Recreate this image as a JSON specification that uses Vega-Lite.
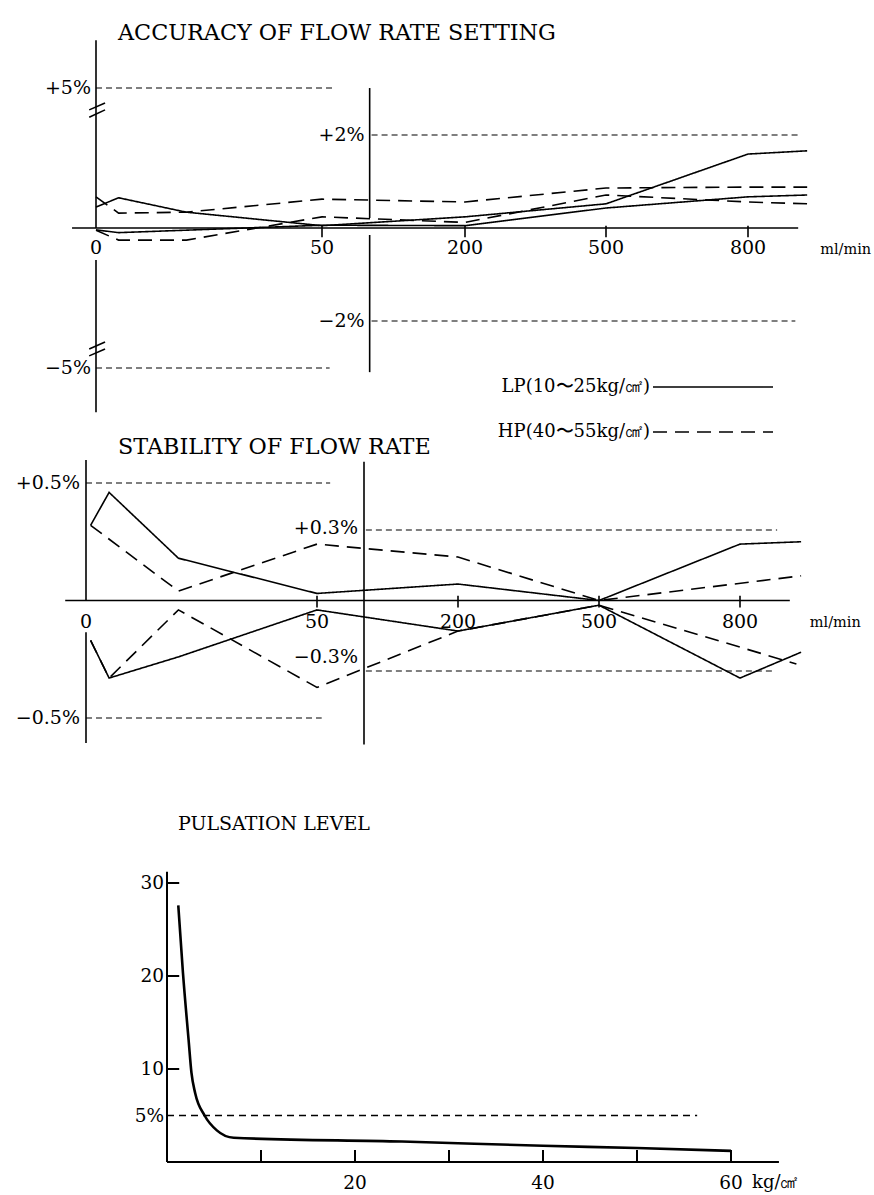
{
  "$schema": "https://vega.github.io/schema/vega-lite/v6.json",
  "width": 874,
  "height": 1195,
  "autosize": "none",
  "padding": 0,
  "background": "white",
  "config": {
    "view": {"stroke": null},
    "axis": {"disable": true},
    "text": {"font": "DejaVu Serif", "fontSize": 18, "baseline": "middle", "color": "black"},
    "line": {"color": "black"},
    "rule": {"color": "black"}
  },
  "datasets": {
    "accuracy": [
      {"type": "LP(10〜25kg/㎠)", "bound": "upper", "flow": 0, "value": 0.45},
      {"type": "LP(10〜25kg/㎠)", "bound": "upper", "flow": 5, "value": 0.65},
      {"type": "LP(10〜25kg/㎠)", "bound": "upper", "flow": 20, "value": 0.34},
      {"type": "LP(10〜25kg/㎠)", "bound": "upper", "flow": 50, "value": 0.05},
      {"type": "LP(10〜25kg/㎠)", "bound": "upper", "flow": 200, "value": 0.24},
      {"type": "LP(10〜25kg/㎠)", "bound": "upper", "flow": 500, "value": 0.52},
      {"type": "LP(10〜25kg/㎠)", "bound": "upper", "flow": 800, "value": 1.59},
      {"type": "LP(10〜25kg/㎠)", "bound": "upper", "flow": 925, "value": 1.66},
      {"type": "LP(10〜25kg/㎠)", "bound": "lower", "flow": 0, "value": -0.04},
      {"type": "LP(10〜25kg/㎠)", "bound": "lower", "flow": 5, "value": -0.1},
      {"type": "LP(10〜25kg/㎠)", "bound": "lower", "flow": 50, "value": 0.06},
      {"type": "LP(10〜25kg/㎠)", "bound": "lower", "flow": 200, "value": 0.05},
      {"type": "LP(10〜25kg/㎠)", "bound": "lower", "flow": 500, "value": 0.43},
      {"type": "LP(10〜25kg/㎠)", "bound": "lower", "flow": 800, "value": 0.67},
      {"type": "LP(10〜25kg/㎠)", "bound": "lower", "flow": 925, "value": 0.71},
      {"type": "HP(40〜55kg/㎠)", "bound": "upper", "flow": 0, "value": 0.67},
      {"type": "HP(40〜55kg/㎠)", "bound": "upper", "flow": 5, "value": 0.32},
      {"type": "HP(40〜55kg/㎠)", "bound": "upper", "flow": 20, "value": 0.34},
      {"type": "HP(40〜55kg/㎠)", "bound": "upper", "flow": 50, "value": 0.62},
      {"type": "HP(40〜55kg/㎠)", "bound": "upper", "flow": 200, "value": 0.56},
      {"type": "HP(40〜55kg/㎠)", "bound": "upper", "flow": 500, "value": 0.86},
      {"type": "HP(40〜55kg/㎠)", "bound": "upper", "flow": 800, "value": 0.88},
      {"type": "HP(40〜55kg/㎠)", "bound": "upper", "flow": 925, "value": 0.88},
      {"type": "HP(40〜55kg/㎠)", "bound": "lower", "flow": 0, "value": -0.05},
      {"type": "HP(40〜55kg/㎠)", "bound": "lower", "flow": 5, "value": -0.26},
      {"type": "HP(40〜55kg/㎠)", "bound": "lower", "flow": 20, "value": -0.26},
      {"type": "HP(40〜55kg/㎠)", "bound": "lower", "flow": 50, "value": 0.24},
      {"type": "HP(40〜55kg/㎠)", "bound": "lower", "flow": 200, "value": 0.12},
      {"type": "HP(40〜55kg/㎠)", "bound": "lower", "flow": 500, "value": 0.71},
      {"type": "HP(40〜55kg/㎠)", "bound": "lower", "flow": 800, "value": 0.56},
      {"type": "HP(40〜55kg/㎠)", "bound": "lower", "flow": 925, "value": 0.52}
    ],
    "stability": [
      {"type": "LP(10〜25kg/㎠)", "bound": "upper", "flow": 1, "value": 0.32},
      {"type": "LP(10〜25kg/㎠)", "bound": "upper", "flow": 5, "value": 0.46},
      {"type": "LP(10〜25kg/㎠)", "bound": "upper", "flow": 20, "value": 0.18},
      {"type": "LP(10〜25kg/㎠)", "bound": "upper", "flow": 50, "value": 0.03},
      {"type": "LP(10〜25kg/㎠)", "bound": "upper", "flow": 200, "value": 0.07},
      {"type": "LP(10〜25kg/㎠)", "bound": "upper", "flow": 500, "value": 0.0},
      {"type": "LP(10〜25kg/㎠)", "bound": "upper", "flow": 800, "value": 0.24},
      {"type": "LP(10〜25kg/㎠)", "bound": "upper", "flow": 930, "value": 0.25},
      {"type": "LP(10〜25kg/㎠)", "bound": "lower", "flow": 1, "value": -0.17},
      {"type": "LP(10〜25kg/㎠)", "bound": "lower", "flow": 5, "value": -0.33},
      {"type": "LP(10〜25kg/㎠)", "bound": "lower", "flow": 20, "value": -0.24},
      {"type": "LP(10〜25kg/㎠)", "bound": "lower", "flow": 50, "value": -0.04},
      {"type": "LP(10〜25kg/㎠)", "bound": "lower", "flow": 200, "value": -0.13},
      {"type": "LP(10〜25kg/㎠)", "bound": "lower", "flow": 500, "value": -0.02},
      {"type": "LP(10〜25kg/㎠)", "bound": "lower", "flow": 800, "value": -0.33},
      {"type": "LP(10〜25kg/㎠)", "bound": "lower", "flow": 930, "value": -0.22},
      {"type": "HP(40〜55kg/㎠)", "bound": "upper", "flow": 1, "value": 0.32},
      {"type": "HP(40〜55kg/㎠)", "bound": "upper", "flow": 20, "value": 0.04},
      {"type": "HP(40〜55kg/㎠)", "bound": "upper", "flow": 50, "value": 0.24},
      {"type": "HP(40〜55kg/㎠)", "bound": "upper", "flow": 200, "value": 0.185},
      {"type": "HP(40〜55kg/㎠)", "bound": "upper", "flow": 500, "value": 0.0},
      {"type": "HP(40〜55kg/㎠)", "bound": "upper", "flow": 930, "value": 0.105},
      {"type": "HP(40〜55kg/㎠)", "bound": "lower", "flow": 1, "value": -0.17},
      {"type": "HP(40〜55kg/㎠)", "bound": "lower", "flow": 5, "value": -0.33},
      {"type": "HP(40〜55kg/㎠)", "bound": "lower", "flow": 20, "value": -0.04},
      {"type": "HP(40〜55kg/㎠)", "bound": "lower", "flow": 50, "value": -0.37},
      {"type": "HP(40〜55kg/㎠)", "bound": "lower", "flow": 200, "value": -0.13},
      {"type": "HP(40〜55kg/㎠)", "bound": "lower", "flow": 500, "value": -0.02},
      {"type": "HP(40〜55kg/㎠)", "bound": "lower", "flow": 920, "value": -0.27}
    ],
    "pulsation": [
      {"pressure": 1.2, "level": 27.6},
      {"pressure": 1.7, "level": 20.3},
      {"pressure": 2.3, "level": 13.1},
      {"pressure": 2.6, "level": 9.6},
      {"pressure": 3.0, "level": 7.4},
      {"pressure": 4.0, "level": 5.0},
      {"pressure": 5.3, "level": 3.4},
      {"pressure": 7.1, "level": 2.6},
      {"pressure": 25, "level": 2.2},
      {"pressure": 40, "level": 1.75},
      {"pressure": 50, "level": 1.5},
      {"pressure": 60, "level": 1.2}
    ]
  },
  "resolve": {"scale": {"x": "independent", "y": "independent"}},
  "layer": [
    {
      "encoding": {
        "x": {"field": "flow", "type": "quantitative", "scale": {"type": "linear", "domain": [0, 50, 200, 500, 800], "range": [96, 322, 465, 606, 748], "nice": false, "zero": false}},
        "y": {"field": "value", "type": "quantitative", "scale": {"type": "linear", "domain": [-2, 2], "range": [321, 135], "nice": false, "zero": false}}
      },
      "layer": [
        {
          "data": {"values": [
            {"flow": -5.3, "flow2": 906, "value": 0, "value2": 0},
            {"flow": 0, "flow2": 0, "value": 4.04, "value2": 0},
            {"flow": 0, "flow2": 0, "value": -0.69, "value2": -3.96},
            {"flow": 100, "flow2": 100, "value": 3.01, "value2": 0.215},
            {"flow": 100, "flow2": 100, "value": -0.15, "value2": -3.1},
            {"flow": 50, "flow2": 50, "value": 0.05, "value2": -0.2},
            {"flow": 200, "flow2": 200, "value": 0.05, "value2": -0.2},
            {"flow": 500, "flow2": 500, "value": 0.05, "value2": -0.2},
            {"flow": 800, "flow2": 800, "value": 0.05, "value2": -0.2},
            {"flow": -1.5, "flow2": 2, "value": 2.54, "value2": 2.69},
            {"flow": -1.5, "flow2": 2, "value": 2.38, "value2": 2.54},
            {"flow": -1.5, "flow2": 2, "value": -2.75, "value2": -2.6},
            {"flow": -1.5, "flow2": 2, "value": -2.6, "value2": -2.45}
          ]},
          "mark": {"type": "rule", "strokeWidth": 1.6},
          "encoding": {"x2": {"field": "flow2"}, "y2": {"field": "value2"}}
        },
        {
          "data": {"values": [
            {"flow": 0, "flow2": 64, "value": 3.01},
            {"flow": 0, "flow2": 58, "value": -3.01},
            {"flow": 102, "flow2": 905, "value": 2},
            {"flow": 102, "flow2": 900, "value": -2}
          ]},
          "mark": {"type": "rule", "strokeWidth": 1.1, "strokeDash": [6, 4]},
          "encoding": {"x2": {"field": "flow2"}}
        },
        {
          "data": {"name": "accuracy"},
          "mark": {"type": "line", "strokeWidth": 1.6},
          "encoding": {
            "strokeDash": {
              "field": "type", "type": "nominal",
              "scale": {"domain": ["LP(10〜25kg/㎠)", "HP(40〜55kg/㎠)"], "range": [[1, 0], [14, 8]]},
              "legend": {"orient": "none", "legendX": 697, "legendY": 371, "title": null, "padding": 0,
                "symbolType": "M-4,0H4", "symbolSize": 900, "symbolStrokeWidth": 1.6, "symbolStrokeColor": "black",
                "labelAlign": "right", "labelOffset": -79, "labelFont": "DejaVu Serif", "labelFontSize": 18,
                "labelColor": "black", "labelLimit": 400, "rowPadding": 20}
            },
            "detail": {"field": "bound"}
          }
        },
        {
          "data": {"values": [
            {"flow": 0, "value": 3.01, "label": "+5%"},
            {"flow": 0, "value": -3.01, "label": "−5%"},
            {"flow": 100, "value": 2, "label": "+2%"},
            {"flow": 100, "value": -2, "label": "−2%"}
          ]},
          "mark": {"type": "text", "align": "right", "dx": -5, "fontSize": 19},
          "encoding": {"text": {"field": "label"}}
        },
        {
          "data": {"values": [
            {"flow": 0, "value": 0, "label": "0"},
            {"flow": 50, "value": 0, "label": "50"},
            {"flow": 200, "value": 0, "label": "200"},
            {"flow": 500, "value": 0, "label": "500"},
            {"flow": 800, "value": 0, "label": "800"}
          ]},
          "mark": {"type": "text", "align": "center", "dy": 20, "fontSize": 19},
          "encoding": {"text": {"field": "label"}}
        },
        {
          "data": {"values": [{"flow": 906, "value": 0, "label": "ml/min"}]},
          "mark": {"type": "text", "align": "left", "dx": 22, "dy": 22, "fontSize": 14.5},
          "encoding": {"text": {"field": "label"}}
        },
        {
          "data": {"values": [{"flow": 0, "value": 4.2, "label": "ACCURACY OF FLOW RATE SETTING"}]},
          "mark": {"type": "text", "align": "left", "dx": 22, "fontSize": 22.3},
          "encoding": {"text": {"field": "label"}}
        }
      ]
    },
    {
      "encoding": {
        "x": {"field": "flow", "type": "quantitative", "scale": {"type": "linear", "domain": [0, 50, 200, 500, 800], "range": [86, 317, 458, 599, 740], "nice": false, "zero": false}},
        "y": {"field": "value", "type": "quantitative", "scale": {"type": "linear", "domain": [-0.5, 0.5], "range": [718, 483], "nice": false, "zero": false}}
      },
      "layer": [
        {
          "data": {"values": [
            {"flow": -4.5, "flow2": 906, "value": 0, "value2": 0},
            {"flow": 0, "flow2": 0, "value": 0.598, "value2": 0},
            {"flow": 0, "flow2": 0, "value": -0.135, "value2": -0.606},
            {"flow": 100, "flow2": 100, "value": 0.59, "value2": -0.613},
            {"flow": 50, "flow2": 50, "value": 0.02, "value2": -0.03},
            {"flow": 200, "flow2": 200, "value": 0.02, "value2": -0.03},
            {"flow": 500, "flow2": 500, "value": 0.02, "value2": -0.03},
            {"flow": 800, "flow2": 800, "value": 0.02, "value2": -0.03}
          ]},
          "mark": {"type": "rule", "strokeWidth": 1.6},
          "encoding": {"x2": {"field": "flow2"}, "y2": {"field": "value2"}}
        },
        {
          "data": {"values": [
            {"flow": 0, "flow2": 64, "value": 0.5},
            {"flow": 0, "flow2": 55, "value": -0.5},
            {"flow": 102, "flow2": 879, "value": 0.3},
            {"flow": 102, "flow2": 873, "value": -0.3}
          ]},
          "mark": {"type": "rule", "strokeWidth": 1.1, "strokeDash": [6, 4]},
          "encoding": {"x2": {"field": "flow2"}}
        },
        {
          "data": {"name": "stability"},
          "mark": {"type": "line", "strokeWidth": 1.6},
          "encoding": {
            "strokeDash": {
              "field": "type", "type": "nominal",
              "scale": {"domain": ["LP(10〜25kg/㎠)", "HP(40〜55kg/㎠)"], "range": [[1, 0], [14, 8]]},
              "legend": {"orient": "none", "legendX": 697, "legendY": 371, "title": null, "padding": 0,
                "symbolType": "M-4,0H4", "symbolSize": 900, "symbolStrokeWidth": 1.6, "symbolStrokeColor": "black",
                "labelAlign": "right", "labelOffset": -79, "labelFont": "DejaVu Serif", "labelFontSize": 18,
                "labelColor": "black", "labelLimit": 400, "rowPadding": 20}
            },
            "detail": {"field": "bound"}
          }
        },
        {
          "data": {"values": [
            {"flow": 0, "value": 0.5, "label": "+0.5%"},
            {"flow": 0, "value": -0.5, "label": "−0.5%"},
            {"flow": 100, "value": 0.31, "label": "+0.3%"},
            {"flow": 100, "value": -0.24, "label": "−0.3%"}
          ]},
          "mark": {"type": "text", "align": "right", "dx": -6, "fontSize": 19},
          "encoding": {"text": {"field": "label"}}
        },
        {
          "data": {"values": [
            {"flow": 0, "value": 0, "label": "0"},
            {"flow": 50, "value": 0, "label": "50"},
            {"flow": 200, "value": 0, "label": "200"},
            {"flow": 500, "value": 0, "label": "500"},
            {"flow": 800, "value": 0, "label": "800"}
          ]},
          "mark": {"type": "text", "align": "center", "dy": 21, "fontSize": 19},
          "encoding": {"text": {"field": "label"}}
        },
        {
          "data": {"values": [{"flow": 906, "value": 0, "label": "ml/min"}]},
          "mark": {"type": "text", "align": "left", "dx": 20, "dy": 22, "fontSize": 14.5},
          "encoding": {"text": {"field": "label"}}
        },
        {
          "data": {"values": [{"flow": 0, "value": 0.653, "label": "STABILITY OF FLOW RATE"}]},
          "mark": {"type": "text", "align": "left", "dx": 32, "fontSize": 22.3},
          "encoding": {"text": {"field": "label"}}
        }
      ]
    },
    {
      "encoding": {
        "x": {"field": "pressure", "type": "quantitative", "scale": {"type": "linear", "domain": [0, 60], "range": [167, 731], "nice": false, "zero": false}},
        "y": {"field": "level", "type": "quantitative", "scale": {"type": "linear", "domain": [0, 30], "range": [1162, 883], "nice": false, "zero": false}}
      },
      "layer": [
        {
          "data": {"values": [
            {"pressure": 0, "pressure2": 0, "level": 0, "level2": 31.2},
            {"pressure": 0, "pressure2": 65.1, "level": 0, "level2": 0},
            {"pressure": 0, "pressure2": 1.3, "level": 10, "level2": 10},
            {"pressure": 0, "pressure2": 1.3, "level": 20, "level2": 20},
            {"pressure": 0, "pressure2": 1.3, "level": 30, "level2": 30},
            {"pressure": 10, "pressure2": 10, "level": 0, "level2": 1.3},
            {"pressure": 20, "pressure2": 20, "level": 0, "level2": 1.3},
            {"pressure": 30, "pressure2": 30, "level": 0, "level2": 1.3},
            {"pressure": 40, "pressure2": 40, "level": 0, "level2": 1.3},
            {"pressure": 50, "pressure2": 50, "level": 0, "level2": 1.3},
            {"pressure": 60, "pressure2": 60, "level": 0, "level2": 1.3}
          ]},
          "mark": {"type": "rule", "strokeWidth": 2},
          "encoding": {"x2": {"field": "pressure2"}, "y2": {"field": "level2"}}
        },
        {
          "data": {"values": [{"pressure": 0, "pressure2": 56.4, "level": 5}]},
          "mark": {"type": "rule", "strokeWidth": 1.3, "strokeDash": [7, 5]},
          "encoding": {"x2": {"field": "pressure2"}}
        },
        {
          "data": {"name": "pulsation"},
          "mark": {"type": "line", "strokeWidth": 2.6, "interpolate": "monotone"}
        },
        {
          "data": {"values": [
            {"pressure": 0, "level": 30, "label": "30"},
            {"pressure": 0, "level": 20, "label": "20"},
            {"pressure": 0, "level": 10, "label": "10"},
            {"pressure": 0, "level": 5, "label": "5%"}
          ]},
          "mark": {"type": "text", "align": "right", "dx": -3, "fontSize": 18.5},
          "encoding": {"text": {"field": "label"}}
        },
        {
          "data": {"values": [
            {"pressure": 20, "level": 0, "label": "20"},
            {"pressure": 40, "level": 0, "label": "40"},
            {"pressure": 60, "level": 0, "label": "60"}
          ]},
          "mark": {"type": "text", "align": "center", "dy": 21, "fontSize": 18.5},
          "encoding": {"text": {"field": "label"}}
        },
        {
          "data": {"values": [{"pressure": 60, "level": 0, "label": "kg/㎠"}]},
          "mark": {"type": "text", "align": "left", "dx": 21, "dy": 21, "fontSize": 18},
          "encoding": {"text": {"field": "label"}}
        },
        {
          "data": {"values": [{"pressure": 0, "level": 36.3, "label": "PULSATION LEVEL"}]},
          "mark": {"type": "text", "align": "left", "dx": 11, "fontSize": 19},
          "encoding": {"text": {"field": "label"}}
        }
      ]
    }
  ]
}
